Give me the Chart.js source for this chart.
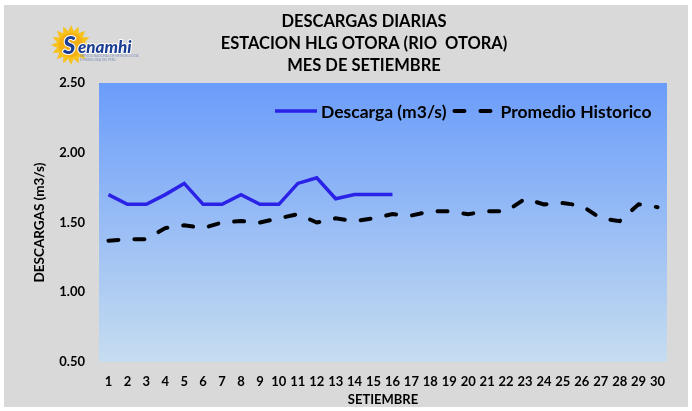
<!DOCTYPE html>
<html>
<head>
    <meta charset="utf-8" />
    <title>Descargas diarias - Estacion HLG Otora</title>
    <script src="https://cdn.jsdelivr.net/npm/chart.js/dist/chart.umd.js"></script>
    <style>
        html, body { margin: 0; padding: 0; background: #fff; }
        #wrap { width: 692px; height: 411px; }
    </style>
</head>
<body>
    <div id="wrap"><canvas id="myChart" width="692" height="411"></canvas></div>
    <script>
        // datos
        var dias = ['1', '2', '3', '4', '5', '6', '7', '8', '9', '10', '11', '12', '13', '14', '15',
            '16', '17', '18', '19', '20', '21', '22', '23', '24', '25', '26', '27', '28', '29', '30'];
        var descarga = [1.70, 1.63, 1.63, 1.70, 1.78, 1.63, 1.63, 1.70, 1.63, 1.63, 1.78, 1.82, 1.67, 1.70, 1.70, 1.70,
            null, null, null, null, null, null, null, null, null, null, null, null, null, null];
        var promedio = [1.37, 1.38, 1.38, 1.46, 1.48, 1.46, 1.50, 1.51, 1.50, 1.53, 1.56, 1.50, 1.53, 1.51, 1.53,
            1.56, 1.55, 1.58, 1.58, 1.56, 1.58, 1.58, 1.67, 1.63, 1.64, 1.62, 1.53, 1.51, 1.63, 1.61];
        var titulo = ['DESCARGAS DIARIAS', 'ESTACION HLG OTORA (RIO  OTORA)', 'MES DE SETIEMBRE'];

        var FONT = 'Lato, "DejaVu Sans", sans-serif';

        function drawLogo(ctx) {
            var cx = 71, cy = 45;
            ctx.save();
            // sol
            ctx.beginPath();
            for (var i = 0; i < 32; i++) {
                var a = i * Math.PI / 16;
                var r = (i % 2 == 0) ? 20 : 14;
                var px = cx + r * Math.cos(a), py = cy + r * Math.sin(a);
                if (i == 0) ctx.moveTo(px, py); else ctx.lineTo(px, py);
            }
            ctx.closePath();
            ctx.fillStyle = '#f7c21b';
            ctx.fill();
            ctx.beginPath();
            ctx.arc(cx, cy, 12, 0, Math.PI * 2);
            ctx.fillStyle = '#f4b015';
            ctx.fill();
            // texto
            ctx.textBaseline = 'alphabetic';
            ctx.lineJoin = 'round';
            ctx.strokeStyle = '#ffffff';
            ctx.lineWidth = 2;
            ctx.fillStyle = '#1d3f93';
            ctx.font = 'italic 900 24px ' + FONT;
            ctx.strokeText('S', 63, 54);
            ctx.fillText('S', 63, 54);
            ctx.font = 'italic 900 17px ' + FONT;
            ctx.strokeText('enamhi', 78, 53);
            ctx.fillText('enamhi', 78, 53);
            ctx.fillStyle = '#8090b8';
            ctx.font = '3px ' + FONT;
            ctx.fillText('SERVICIO NACIONAL DE METEOROLOGIA', 80, 57);
            ctx.fillText('E HIDROLOGIA DEL PERU', 80, 61);
            ctx.restore();
        }

        var fondoPlugin = {
            id: 'fondo',
            beforeDraw: function (chart) {
                var ctx = chart.ctx, a = chart.chartArea;
                ctx.save();
                ctx.fillStyle = '#ffffff';
                ctx.fillRect(0, 0, chart.width, chart.height);
                ctx.fillStyle = '#d9d9d9';
                ctx.fillRect(4, 5, 684, 402);
                var g = ctx.createLinearGradient(0, a.top, 0, a.bottom);
                g.addColorStop(0, '#6a9cfa');
                g.addColorStop(1, '#c6ddf0');
                ctx.fillStyle = g;
                ctx.fillRect(a.left, a.top, a.right - a.left, a.bottom - a.top);
                // titulo
                ctx.fillStyle = '#000';
                ctx.font = 'bold 16.5px ' + FONT;
                ctx.textAlign = 'center';
                ctx.textBaseline = 'middle';
                titulo.forEach(function (t, i) {
                    ctx.fillText(t, 364, 22 + i * 22);
                });
                ctx.restore();
                drawLogo(ctx);
            }
        };

        var leyendaPlugin = {
            id: 'leyenda',
            afterDatasetsDraw: function (chart) {
                var ctx = chart.ctx, a = chart.chartArea;
                var y = a.top + 28;
                var x = 273;
                ctx.save();
                ctx.font = 'bold 17.5px ' + FONT;
                ctx.textBaseline = 'middle';
                chart.data.datasets.forEach(function (ds) {
                    ctx.beginPath();
                    ctx.setLineDash(ds.borderDash || []);
                    ctx.lineCap = ds.borderCapStyle || 'butt';
                    ctx.lineWidth = ds.borderWidth;
                    ctx.strokeStyle = ds.borderColor;
                    ctx.moveTo(x + 2, y);
                    ctx.lineTo(x + 44, y);
                    ctx.stroke();
                    ctx.setLineDash([]);
                    ctx.fillStyle = '#000';
                    ctx.fillText(ds.label, x + 48, y + 1);
                    x += 48 + ctx.measureText(ds.label).width + 6;
                });
                ctx.restore();
            }
        };

        var config = {
            type: 'line',
            data: {
                labels: dias,
                datasets: [{
                    label: 'Descarga (m3/s)',
                    data: descarga,
                    borderColor: '#2b22e8',
                    borderWidth: 3.5,
                    pointRadius: 0,
                    tension: 0,
                    spanGaps: false
                }, {
                    label: 'Promedio Historico',
                    data: promedio,
                    borderColor: '#000000',
                    borderWidth: 4,
                    borderDash: [10, 16],
                    borderCapStyle: 'round',
                    pointRadius: 0,
                    tension: 0
                }]
            },
            options: {
                responsive: false,
                animation: false,
                layout: { padding: { top: 83, left: 32, right: 25, bottom: 3 } },
                plugins: {
                    legend: { display: false },
                    tooltip: { enabled: false },
                    title: { display: false }
                },
                scales: {
                    x: {
                        offset: true,
                        grid: { display: false, drawTicks: false },
                        border: { display: false },
                        afterFit: function (s) { s.height = 46; },
                        ticks: {
                            color: '#000',
                            font: { family: FONT, size: 13, weight: 'bold' },
                            padding: 12,
                            maxRotation: 0,
                            autoSkip: false
                        },
                        title: {
                            display: true,
                            text: 'SETIEMBRE',
                            color: '#000',
                            font: { family: FONT, size: 13, weight: 'bold' },
                            padding: { top: 3, bottom: 0 }
                        }
                    },
                    y: {
                        min: 0.5,
                        max: 2.5,
                        grid: { display: false, drawTicks: false },
                        border: { display: false },
                        afterFit: function (s) { s.width = 67; },
                        ticks: {
                            stepSize: 0.5,
                            color: '#000',
                            font: { family: FONT, size: 13, weight: 'bold' },
                            padding: 14,
                            callback: function (v) { return v.toFixed(2); }
                        },
                        title: {
                            display: true,
                            text: 'DESCARGAS (m3/s)',
                            color: '#000',
                            font: { family: FONT, size: 13.5, weight: 'bold' },
                            padding: { top: 0, bottom: 10 }
                        }
                    }
                }
            },
            plugins: [fondoPlugin, leyendaPlugin]
        };

        var myChart = new Chart(document.getElementById('myChart'), config);
    </script>
</body>
</html>
